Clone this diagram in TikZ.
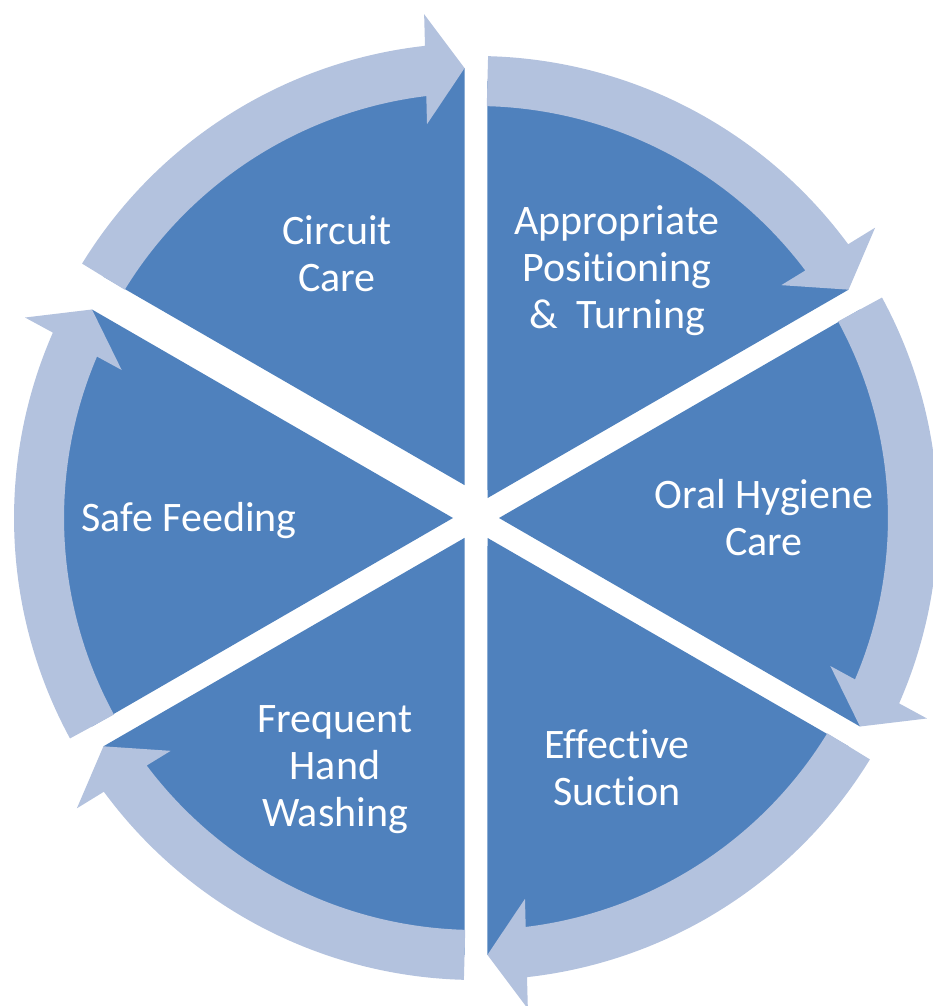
\documentclass[tikz,border=0pt]{standalone}
\usepackage{xcolor}
\usepackage{fontspec}
\setmainfont{Carlito}[Ligatures=NoCommon]
\usepackage{tikz}
\definecolor{segment}{HTML}{4F81BD}
\definecolor{ring}{HTML}{B3C2DE}

\begin{document}
\begin{tikzpicture}[x=1pt,y=1pt,
  wedge/.style={fill=segment},
  ringarrow/.style={fill=ring},
  seglabel/.style={text=white,align=center,
                   font=\fontsize{42}{47}\selectfont}]
  \useasboundingbox (-476,-488) rectangle (456,518);
  % pie segments, the first one lifted a little
  \foreach \b/\dy in {150/13,90/0,30/0,-30/0,-90/0,210/0}{
    \fill[wedge,shift={(0,\dy)}] ({\b-30}:23pt) -- ({\b-1.5}:437pt)
      arc[start angle=\b-1.5,end angle=\b-58.5,radius=437pt] -- cycle;
  }
  % curved arrows round the rim
  \foreach \b/\dy in {150/13,90/0,30/0,-30/0,-90/0,210/0}{
    \fill[ringarrow,shift={(0,\dy)},rotate=\b-58.5] (57:462pt)
      arc[start angle=57,end angle=4.84,radius=462pt]
      -- (492pt,39pt) -- (437pt,0pt) -- (382pt,39pt) -- (5.43:412pt)
      arc[start angle=5.43,end angle=57,radius=412pt] -- cycle;
  }
  \node[seglabel] (circuit) at (-139,264) {Circuit\\Care};
  \node[seglabel] (positioning) at (141,247) {Appropriate\\Positioning\\\&~~Turning};
  \node[seglabel] (oral) at (288,0) {Oral Hygiene\\Care};
  \node[seglabel] (suction) at (141,-250) {Effective\\Suction};
  \node[seglabel] (washing) at (-141,-252) {Frequent\\Hand\\Washing};
  \node[seglabel] (feeding) at (-287,-3) {Safe Feeding};
\end{tikzpicture}
\end{document}
